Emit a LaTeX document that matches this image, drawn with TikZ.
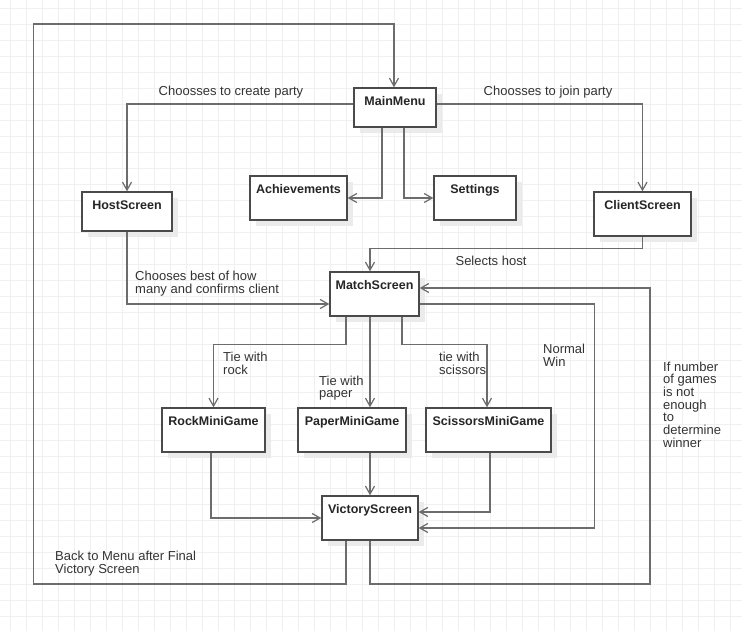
\documentclass[tikz,border=0pt]{standalone}
\usepackage{fontspec}
\setmainfont{Liberation Sans}
\usetikzlibrary{arrows.meta,shadows}
\definecolor{gridc}{HTML}{F0F0F0}
\definecolor{linec}{HTML}{6C6C6C}
\definecolor{boxc}{HTML}{4A4A4A}
\definecolor{shadc}{HTML}{EBEBEB}
\definecolor{textc}{HTML}{333333}
\tikzset{
  box/.style={draw=boxc, line width=1.3pt, fill=white, rectangle, inner sep=0pt,
    general shadow={fill=shadc, draw=none, shadow xshift=6pt, shadow yshift=-6pt},
    label={[boxtext]north:#1}},
  boxtext/.style={font=\bfseries\fontsize{12.5}{13}\selectfont, text=black!85, anchor=north, inner sep=0pt, yshift=-9pt},
  conn/.style={draw=linec, line width=1.5pt, -{Straight Barb[length=8pt,width=9pt,line width=1.2pt]}},
  lbl/.style={font=\fontsize{13}{12.7}\selectfont, text=textc, inner sep=0pt, align=left},
}
\begin{document}
\begin{tikzpicture}[x=1pt,y=-1pt]
\fill[white] (0,0) rectangle (742,631);
\useasboundingbox (0,0) rectangle (742,631);
\foreach \i in {0,...,45} \draw[gridc, line width=0.9pt] (10.67+16*\i,0) -- (10.67+16*\i,631);
\foreach \j in {0,...,39} \draw[gridc, line width=0.9pt] (0,8+16*\j) -- (742,8+16*\j);

% boxes
\node[box={MainMenu}, minimum width=82pt, minimum height=39pt] (mm) at (395,107.5) {};
\node[box={HostScreen}, minimum width=90pt, minimum height=39pt] (hs) at (127,211.5) {};
\node[box={Achievements}, minimum width=97pt, minimum height=44pt] (ach) at (298.5,198) {};
\node[box={Settings}, minimum width=82pt, minimum height=44pt] (set) at (475,198) {};
\node[box={ClientScreen}, minimum width=97pt, minimum height=44pt] (cs) at (642.5,214) {};
\node[box={MatchScreen}, minimum width=89pt, minimum height=44pt] (ms) at (374.5,294) {};
\node[box={RockMiniGame}, minimum width=103pt, minimum height=44pt] (rock) at (213.5,430) {};
\node[box={PaperMiniGame}, minimum width=108pt, minimum height=44pt] (paper) at (352,430) {};
\node[box={ScissorsMiniGame}, minimum width=125pt, minimum height=44pt] (sc) at (488.5,430) {};
\node[box={VictoryScreen}, minimum width=96pt, minimum height=44pt] (vs) at (370,518) {};

\coordinate (loopL) at (33.5,584);
\coordinate (loopLT) at (33.5,24);
\coordinate (loopR) at (650,584);

% connectors
\draw[conn] ([yshift=3.5pt]mm.west) -| (hs.north);
\draw[conn] ([yshift=3.5pt]mm.east) -| (cs.north);
\draw[conn] ([xshift=-13pt]mm.south) |- (ach.east);
\draw[conn] ([xshift=9pt]mm.south) |- (set.west);
\draw[conn] (cs.south) -- ++(0,12) -| ([xshift=-4.5pt]ms.north);
\draw[conn] (hs.south) |- ([yshift=-10pt]ms.west);
\draw[conn] ([xshift=-28.5pt]ms.south) -- ++(0,28) -| (rock.north);
\draw[conn] ([xshift=-4.5pt]ms.south) -- ([xshift=-4.5pt]ms.south |- paper.north);
\draw[conn] ([xshift=27.5pt]ms.south) -- ++(0,28) -| ([xshift=-1.5pt]sc.north);
\draw[conn] ([xshift=-2.5pt]rock.south) |- (vs.west);
\draw[conn] ([xshift=18pt]paper.south) -- (vs.north);
\draw[conn] ([xshift=1.5pt]sc.south) |- ([yshift=6pt]vs.east);
\draw[conn] ([yshift=-10pt]ms.east) -- ++(175,0) |- ([yshift=-10pt]vs.east);
\draw[conn] ([xshift=-24pt]vs.south) |- (loopL) -- (loopLT) -| ([xshift=-1pt]mm.north);
\draw[conn] (vs.south) |- (loopR) |- ([yshift=6pt]ms.east);

% labels
\node[lbl] (l1) at (231,92.5) {Choosses to create party};
\node[lbl] (l2) at (548,92.5) {Choosses to join party};
\node[lbl] (l3) at (491,260.5) {Selects host};
\node[lbl, anchor=west] (l4) at (135,283.5) {Chooses best of how\\many and confirms client};
\node[lbl, anchor=west] (l5) at (223,363.5) {Tie with\\rock};
\node[lbl, anchor=west] (l6) at (319,388) {Tie with\\paper};
\node[lbl, anchor=west] (l7) at (439,363.5) {tie with\\scissors};
\node[lbl, anchor=west] (l8) at (543,355.5) {Normal\\Win};
\node[lbl, anchor=west] (l9) at (663,404.5) {If number\\of games\\is not\\enough\\to\\determine\\winner};
\node[lbl, anchor=west] (l10) at (55,563.5) {Back to Menu after Final\\Victory Screen};
\end{tikzpicture}
\end{document}
